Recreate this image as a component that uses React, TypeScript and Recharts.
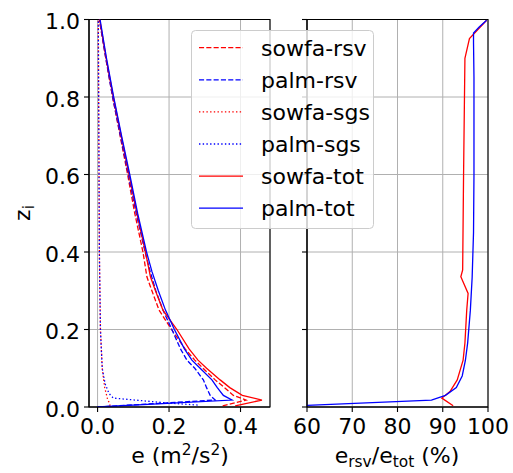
import React from "react";
import { LineChart, Line, XAxis, YAxis, CartesianGrid, ReferenceArea } from "recharts";

const FONT = "'DejaVu Sans', sans-serif";
const RED = "#ff0000";
const BLUE = "#0000ff";

// left panel: resolved / subgrid / total TKE against normalised height
const sowfaZ = [0.003, 0.018, 0.03, 0.05, 0.07, 0.1, 0.121, 0.15, 0.2, 0.25, 0.3, 0.336, 0.4, 0.5, 0.6, 0.7, 0.8, 0.9, 1.0];
const sowfaRsv = [0.35, 0.415, 0.38, 0.355, 0.329, 0.295, 0.272, 0.245, 0.207, 0.172, 0.152, 0.138, 0.127, 0.104, 0.084, 0.063, 0.042, 0.023, 0.005];
const sowfaTot = [0.385, 0.46, 0.405, 0.37, 0.343, 0.305, 0.281, 0.256, 0.222, 0.183, 0.162, 0.148, 0.134, 0.11, 0.088, 0.066, 0.044, 0.024, 0.006];
const sowfaSgsZ = [0.003, 0.01, 0.02, 0.035, 0.05, 0.07, 0.1, 0.2, 0.4, 0.6, 0.8, 1.0];
const sowfaSgs = [0.035, 0.033, 0.028, 0.024, 0.02, 0.017, 0.013, 0.008, 0.005, 0.004, 0.003, 0.002];

const palmZ = [0, 0.018, 0.03, 0.05, 0.07, 0.1, 0.121, 0.15, 0.2, 0.25, 0.3, 0.35, 0.4, 0.5, 0.6, 0.7, 0.8, 0.9, 1.0];
const palmRsv = [0, 0.329, 0.315, 0.305, 0.296, 0.272, 0.25, 0.232, 0.208, 0.183, 0.163, 0.147, 0.133, 0.108, 0.086, 0.064, 0.042, 0.023, 0.005];
const palmTot = [0, 0.376, 0.352, 0.335, 0.32, 0.287, 0.264, 0.243, 0.215, 0.19, 0.17, 0.152, 0.137, 0.112, 0.09, 0.067, 0.045, 0.025, 0.007];
const palmSgsZ = [0.005, 0.01, 0.023, 0.035, 0.06, 0.1, 0.2, 0.4, 0.6, 0.8, 1.0];
const palmSgs = [0.28, 0.2, 0.044, 0.032, 0.021, 0.013, 0.008, 0.005, 0.004, 0.003, 0.002];

// right panel: resolved share of total TKE (%)
const sowfaRatioZ = [0.003, 0.023, 0.04, 0.07, 0.121, 0.165, 0.25, 0.293, 0.336, 0.354, 0.6, 0.9, 0.951, 0.998];
const sowfaRatio = [92.3, 89.8, 91.6, 93.2, 94.5, 94.9, 95.3, 95.6, 94.0, 94.4, 94.6, 94.9, 95.9, 99.7];
const palmRatioZ = [0.004, 0.018, 0.03, 0.05, 0.08, 0.12, 0.165, 0.25, 0.335, 0.45, 0.6, 0.75, 0.85, 0.94, 0.965, 0.98, 0.998];
const palmRatio = [60, 87.5, 90.6, 93.0, 94.3, 95.0, 95.5, 96.1, 96.5, 96.8, 96.9, 96.9, 96.9, 96.8, 96.8, 98.0, 99.7];

const zTicks = [0, 0.2, 0.4, 0.6, 0.8, 1.0];
const eTicks = [0, 0.2, 0.4];
const ratioTicks = [60, 70, 80, 90, 100];
const eDomain = [-0.024, 0.4825];
const ratioDomain = [60, 100];

const toRows = (z: number[], v: number[]) => z.map((zz, i) => ({ z: zz, v: v[i] }));

const DASHED = "5.1 2.2";
const DOTTED = "1.4 2.3";

const leftSeries = [
  { name: "sowfa-rsv", color: RED, dash: DASHED, data: toRows(sowfaZ, sowfaRsv) },
  { name: "palm-rsv", color: BLUE, dash: DASHED, data: toRows(palmZ, palmRsv) },
  { name: "sowfa-sgs", color: RED, dash: DOTTED, data: toRows(sowfaSgsZ, sowfaSgs) },
  { name: "palm-sgs", color: BLUE, dash: DOTTED, data: toRows(palmSgsZ, palmSgs) },
  { name: "sowfa-tot", color: RED, dash: undefined, data: toRows(sowfaZ, sowfaTot) },
  { name: "palm-tot", color: BLUE, dash: undefined, data: toRows(palmZ, palmTot) },
];

const rightSeries = [
  { name: "sowfa", color: RED, data: toRows(sowfaRatioZ, sowfaRatio) },
  { name: "palm", color: BLUE, data: toRows(palmRatioZ, palmRatio) },
];

const axisStyle = { stroke: "#000", strokeWidth: 1.1 };

const YTick = ({ x, y, payload }: any) => (
  <text x={x} y={y + 9.5} textAnchor="end" fontSize={22} fontFamily={FONT} fill="#000">
    {Number(payload.value).toFixed(1)}
  </text>
);

const makeXTick = (digits: number) => ({ x, y, payload }: any) => (
  <text x={x} y={y + 21.5} textAnchor="middle" fontSize={22} fontFamily={FONT} fill="#000">
    {Number(payload.value).toFixed(digits)}
  </text>
);

const NoTick = () => <g />;

const LeftPanel = () => (
  <LineChart
    width={280}
    height={473}
    layout="vertical"
    margin={{ top: 19.5, right: 10, left: 0, bottom: 0 }}
  >
    <CartesianGrid stroke="#b0b0b0" strokeWidth={1} />
    <XAxis
      type="number"
      dataKey="v"
      domain={eDomain}
      ticks={eTicks}
      allowDataOverflow
      height={66}
      tickSize={5}
      tickMargin={0}
      axisLine={axisStyle}
      tickLine={axisStyle}
      tick={makeXTick(1)}
    />
    <YAxis
      type="number"
      dataKey="z"
      domain={[0, 1]}
      ticks={zTicks}
      reversed
      allowDataOverflow
      width={89}
      tickSize={5}
      tickMargin={4}
      axisLine={axisStyle}
      tickLine={axisStyle}
      tick={<YTick />}
    />
    {leftSeries.map((s) => (
      <Line
        key={s.name}
        data={s.data}
        dataKey="v"
        name={s.name}
        type="linear"
        stroke={s.color}
        strokeWidth={1.3}
        strokeDasharray={s.dash}
        dot={false}
        activeDot={false}
        isAnimationActive={false}
      />
    ))}
    <ReferenceArea x1={eDomain[0]} x2={eDomain[1]} y1={0} y2={1} fill="none" stroke="#000" strokeWidth={1.1} />
  </LineChart>
);

const RightPanel = () => (
  <LineChart
    width={233}
    height={473}
    layout="vertical"
    margin={{ top: 19.5, right: 25, left: 0, bottom: 0 }}
  >
    <CartesianGrid stroke="#b0b0b0" strokeWidth={1} />
    <XAxis
      type="number"
      dataKey="v"
      domain={ratioDomain}
      ticks={ratioTicks}
      allowDataOverflow
      height={66}
      tickSize={5}
      tickMargin={0}
      axisLine={axisStyle}
      tickLine={axisStyle}
      tick={makeXTick(0)}
    />
    <YAxis
      type="number"
      dataKey="z"
      domain={[0, 1]}
      ticks={zTicks}
      reversed
      allowDataOverflow
      width={27}
      tickSize={5}
      axisLine={axisStyle}
      tickLine={axisStyle}
      tick={<NoTick />}
    />
    {rightSeries.map((s) => (
      <Line
        key={s.name}
        data={s.data}
        dataKey="v"
        name={s.name}
        type="linear"
        stroke={s.color}
        strokeWidth={1.3}
        dot={false}
        activeDot={false}
        isAnimationActive={false}
      />
    ))}
    <ReferenceArea x1={60} x2={100} y1={0} y2={1} fill="none" stroke="#000" strokeWidth={1.1} />
  </LineChart>
);

const Labels = () => (
  <svg width={513} height={473} style={{ position: "absolute", left: 0, top: 0, pointerEvents: "none" }}>
    <text transform="translate(30, 213) rotate(-90)" textAnchor="middle" fontSize={22} fontFamily={FONT} fill="#000">
      z<tspan dy={4} fontSize={15.4}>i</tspan>
    </text>
    <text x={180} y={463} textAnchor="middle" fontSize={22} fontFamily={FONT} fill="#000">
      e (m<tspan dy={-8} fontSize={15.4}>2</tspan>
      <tspan dy={8}>/s</tspan>
      <tspan dy={-8} fontSize={15.4}>2</tspan>
      <tspan dy={8}>)</tspan>
    </text>
    <text x={397} y={463} textAnchor="middle" fontSize={22} fontFamily={FONT} fill="#000">
      e<tspan dy={4} fontSize={15.4}>rsv</tspan>
      <tspan dy={-4}>/e</tspan>
      <tspan dy={4} fontSize={15.4}>tot</tspan>
      <tspan dy={-4}> (%)</tspan>
    </text>
  </svg>
);

const LegendBox = () => (
  <svg width={513} height={473} style={{ position: "absolute", left: 0, top: 0, pointerEvents: "none" }}>
    <rect x={191.5} y={30.5} width={182} height={198} rx={4} fill="rgba(255,255,255,0.8)" stroke="#cccccc" strokeWidth={1} />
    {leftSeries.map((s, i) => {
      const cy = 47.7 + 32.1 * i;
      return (
        <g key={s.name}>
          <line x1={199} x2={243} y1={cy} y2={cy} stroke={s.color} strokeWidth={1.3} strokeDasharray={s.dash} />
          <text x={261} y={cy + 8} fontSize={22} fontFamily={FONT} fill="#000">
            {s.name}
          </text>
        </g>
      );
    })}
  </svg>
);

export default function App() {
  return (
    <div style={{ position: "absolute", left: 0, top: 0, width: 513, height: 473, background: "#fff" }}>
      <div style={{ position: "absolute", left: 0, top: 0 }}>
        <LeftPanel />
      </div>
      <div style={{ position: "absolute", left: 280, top: 0 }}>
        <RightPanel />
      </div>
      <Labels />
      <LegendBox />
    </div>
  );
}
